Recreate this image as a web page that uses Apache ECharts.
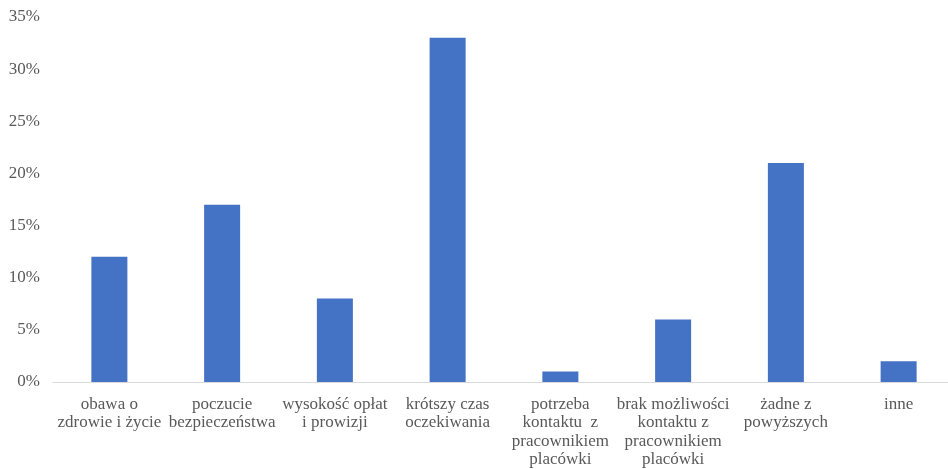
<!DOCTYPE html>
<html>
<head>
<meta charset="utf-8">
<script src="https://cdn.jsdelivr.net/npm/echarts@6/dist/echarts.min.js"></script>
<style>
html,body{margin:0;padding:0;background:#fff;overflow:hidden;}
/* plot area runs slightly past the right edge of the page */
#chart{width:955px;height:469px;}
</style>
</head>
<body>
<div id="chart"></div>
<script>
const categories = [
  'obawa o\nzdrowie i życie',
  'poczucie\nbezpieczeństwa',
  'wysokość opłat\ni prowizji',
  'krótszy czas\noczekiwania',
  'potrzeba\nkontaktu  z\npracownikiem\nplacówki',
  'brak możliwości\nkontaktu z\npracownikiem\nplacówki',
  'żadne z\npowyższych',
  'inne'
];
const shares = [12, 17, 8, 33, 1, 6, 21, 2];
const yTicks = [0, 5, 10, 15, 20, 25, 30, 35];

const chart = echarts.init(document.getElementById('chart'), null, {renderer: 'canvas'});
const font = '"Liberation Serif", "Times New Roman", serif';
chart.setOption({
  animation: false,
  grid: {left: 53, right: 0, top: 17, bottom: 86},
  xAxis: {
    type: 'category',
    data: categories,
    axisLine: {lineStyle: {color: '#d9d9d9', width: 1}},
    axisTick: {show: false},
    axisLabel: {
      interval: 0,
      margin: 13,
      color: '#595959',
      fontFamily: font,
      fontSize: 17,
      lineHeight: 18.5
    }
  },
  yAxis: {
    type: 'value',
    min: yTicks[0],
    max: yTicks[yTicks.length - 1],
    interval: 5,
    axisLine: {show: false},
    axisTick: {show: false},
    splitLine: {show: false},
    axisLabel: {
      margin: 13,
      color: '#595959',
      fontFamily: font,
      fontSize: 17,
      formatter: v => v + '%'
    }
  },
  series: [{
    type: 'bar',
    data: shares,
    barWidth: 36,
    itemStyle: {color: '#4472C4'}
  }]
});
</script>
</body>
</html>
